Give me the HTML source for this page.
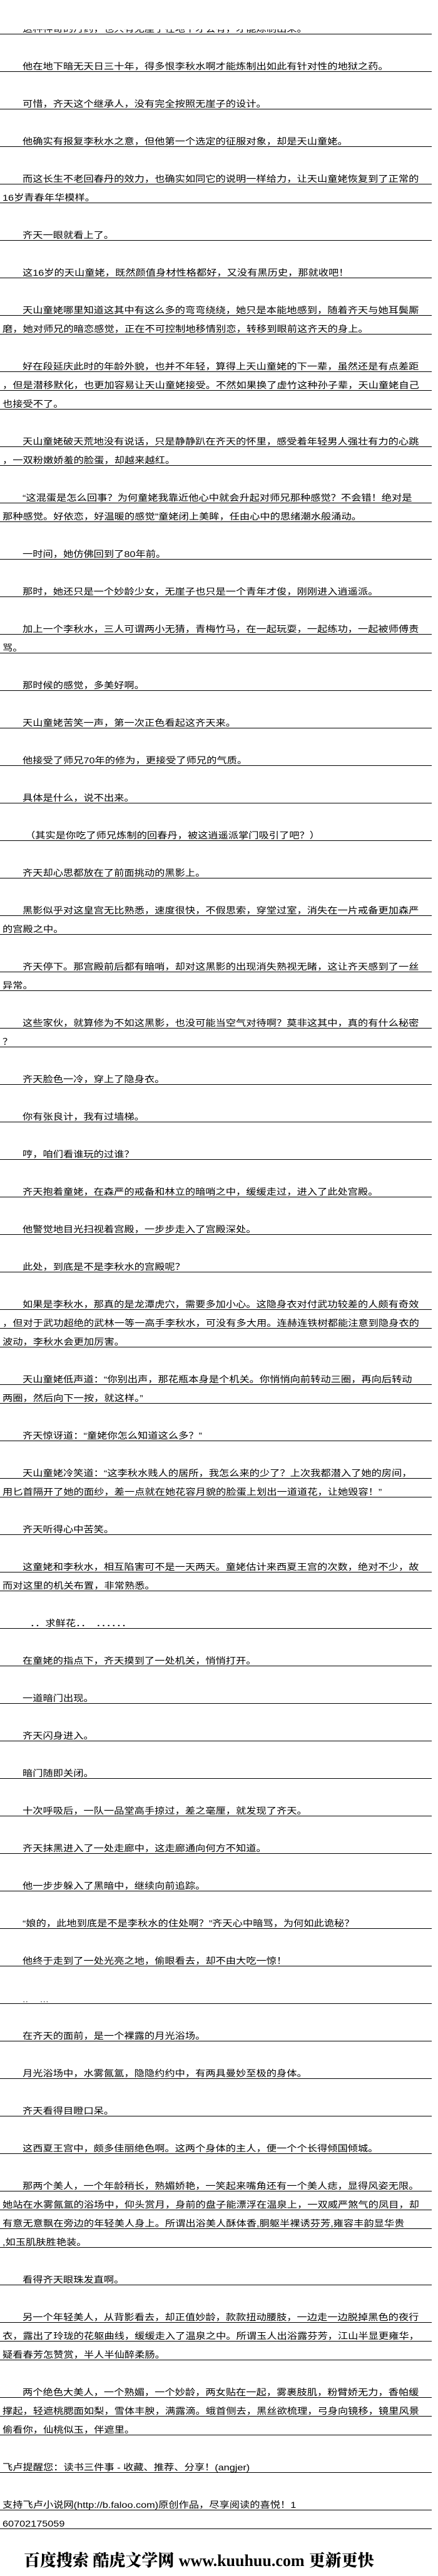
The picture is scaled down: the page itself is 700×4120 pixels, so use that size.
<!DOCTYPE html>
<html><head><meta charset="utf-8">
<style>
html,body{margin:0;padding:0;background:#fff;}
body{width:700px;height:4120px;position:relative;overflow:hidden;font-family:"Liberation Sans","Noto Sans CJK SC",sans-serif;color:#000;}
.r{position:absolute;left:0;width:690px;height:29px;border-bottom:1px solid #000;}
.r span{position:absolute;bottom:0;left:36px;font-size:14px;line-height:15px;white-space:nowrap;transform:scaleX(1.16);transform-origin:left bottom;}
.r span.c{left:4px;}
.logo{position:absolute;top:4078px;left:38px;white-space:nowrap;font-size:26px;line-height:32px;font-weight:bold;}
.logo .cn{font-family:"Noto Serif CJK SC","Liberation Serif",serif;font-weight:900;}
.logo .en{font-family:"Liberation Serif",serif;font-weight:bold;}
</style></head><body>
<div class="r" style="top:25px"><span>这种神奇的丹药，也只有无崖子在地下才会有，才能炼制出来。</span></div>
<div style="position:absolute;left:0;top:0;width:700px;height:47px;background:#fff"></div>
<div class="r" style="top:85px"><span>他在地下暗无天日三十年，得多恨李秋水啊才能炼制出如此有针对性的地狱之药。</span></div>
<div class="r" style="top:145px"><span>可惜，齐天这个继承人，没有完全按照无崖子的设计。</span></div>
<div class="r" style="top:205px"><span>他确实有报复李秋水之意，但他第一个选定的征服对象，却是天山童姥。</span></div>
<div class="r" style="top:265px"><span>而这长生不老回春丹的效力，也确实如同它的说明一样给力，让天山童姥恢复到了正常的</span></div>
<div class="r" style="top:295px"><span class="c">16岁青春年华模样。</span></div>
<div class="r" style="top:355px"><span>齐天一眼就看上了。</span></div>
<div class="r" style="top:415px"><span>这16岁的天山童姥，既然颜值身材性格都好，又没有黑历史，那就收吧！</span></div>
<div class="r" style="top:475px"><span>天山童姥哪里知道这其中有这么多的弯弯绕绕，她只是本能地感到，随着齐天与她耳鬓厮</span></div>
<div class="r" style="top:505px"><span class="c">磨，她对师兄的暗恋感觉，正在不可控制地移情别恋，转移到眼前这齐天的身上。</span></div>
<div class="r" style="top:565px"><span>好在段延庆此时的年龄外貌，也并不年轻，算得上天山童姥的下一辈，虽然还是有点差距</span></div>
<div class="r" style="top:595px"><span class="c">，但是潜移默化，也更加容易让天山童姥接受。不然如果换了虚竹这种孙子辈，天山童姥自己</span></div>
<div class="r" style="top:625px"><span class="c">也接受不了。</span></div>
<div class="r" style="top:685px"><span>天山童姥破天荒地没有说话，只是静静趴在齐天的怀里，感受着年轻男人强壮有力的心跳</span></div>
<div class="r" style="top:715px"><span class="c">，一双粉嫩娇羞的脸蛋，却越来越红。</span></div>
<div class="r" style="top:775px"><span>“这混蛋是怎么回事？为何童姥我靠近他心中就会升起对师兄那种感觉？不会错！绝对是</span></div>
<div class="r" style="top:805px"><span class="c">那种感觉。好依恋，好温暖的感觉”童姥闭上美眸，任由心中的思绪潮水般涌动。</span></div>
<div class="r" style="top:865px"><span>一时间，她仿佛回到了80年前。</span></div>
<div class="r" style="top:925px"><span>那时，她还只是一个妙龄少女，无崖子也只是一个青年才俊，刚刚进入逍遥派。</span></div>
<div class="r" style="top:985px"><span>加上一个李秋水，三人可谓两小无猜，青梅竹马，在一起玩耍，一起练功，一起被师傅责</span></div>
<div class="r" style="top:1015px"><span class="c">骂。</span></div>
<div class="r" style="top:1075px"><span>那时候的感觉，多美好啊。</span></div>
<div class="r" style="top:1135px"><span>天山童姥苦笑一声，第一次正色看起这齐天来。</span></div>
<div class="r" style="top:1195px"><span>他接受了师兄70年的修为，更接受了师兄的气质。</span></div>
<div class="r" style="top:1255px"><span>具体是什么，说不出来。</span></div>
<div class="r" style="top:1315px"><span style="left:40px">（其实是你吃了师兄炼制的回春丹，被这逍遥派掌门吸引了吧？）</span></div>
<div class="r" style="top:1375px"><span>齐天却心思都放在了前面挑动的黑影上。</span></div>
<div class="r" style="top:1435px"><span>黑影似乎对这皇宫无比熟悉，速度很快，不假思索，穿堂过室，消失在一片戒备更加森严</span></div>
<div class="r" style="top:1465px"><span class="c">的宫殿之中。</span></div>
<div class="r" style="top:1525px"><span>齐天停下。那宫殿前后都有暗哨，却对这黑影的出现消失熟视无睹，这让齐天感到了一丝</span></div>
<div class="r" style="top:1555px"><span class="c">异常。</span></div>
<div class="r" style="top:1615px"><span>这些家伙，就算修为不如这黑影，也没可能当空气对待啊？莫非这其中，真的有什么秘密</span></div>
<div class="r" style="top:1645px"><span class="c">？</span></div>
<div class="r" style="top:1705px"><span>齐天脸色一冷，穿上了隐身衣。</span></div>
<div class="r" style="top:1765px"><span>你有张良计，我有过墙梯。</span></div>
<div class="r" style="top:1825px"><span>哼，咱们看谁玩的过谁？</span></div>
<div class="r" style="top:1885px"><span>齐天抱着童姥，在森严的戒备和林立的暗哨之中，缓缓走过，进入了此处宫殿。</span></div>
<div class="r" style="top:1945px"><span>他警觉地目光扫视着宫殿，一步步走入了宫殿深处。</span></div>
<div class="r" style="top:2005px"><span>此处，到底是不是李秋水的宫殿呢？</span></div>
<div class="r" style="top:2065px"><span>如果是李秋水，那真的是龙潭虎穴，需要多加小心。这隐身衣对付武功较差的人颇有奇效</span></div>
<div class="r" style="top:2095px"><span class="c">，但对于武功超绝的武林一等一高手李秋水，可没有多大用。连赫连铁树都能注意到隐身衣的</span></div>
<div class="r" style="top:2125px"><span class="c">波动，李秋水会更加厉害。</span></div>
<div class="r" style="top:2185px"><span>天山童姥低声道：“你别出声，那花瓶本身是个机关。你悄悄向前转动三圈，再向后转动</span></div>
<div class="r" style="top:2215px"><span class="c">两圈，然后向下一按，就这样。”</span></div>
<div class="r" style="top:2275px"><span>齐天惊讶道：“童姥你怎么知道这么多？”</span></div>
<div class="r" style="top:2335px"><span>天山童姥冷笑道：“这李秋水贱人的居所，我怎么来的少了？上次我都潜入了她的房间，</span></div>
<div class="r" style="top:2365px"><span class="c">用匕首隔开了她的面纱，差一点就在她花容月貌的脸蛋上划出一道道花，让她毁容！”</span></div>
<div class="r" style="top:2425px"><span>齐天听得心中苦笑。</span></div>
<div class="r" style="top:2485px"><span>这童姥和李秋水，相互陷害可不是一天两天。童姥估计来西夏王宫的次数，绝对不少，故</span></div>
<div class="r" style="top:2515px"><span class="c">而对这里的机关布置，非常熟悉。</span></div>
<div class="r" style="top:2575px"><span style="left:48px">．．求鲜花．．　．．．．．．</span></div>
<div class="r" style="top:2635px"><span>在童姥的指点下，齐天摸到了一处机关，悄悄打开。</span></div>
<div class="r" style="top:2695px"><span>一道暗门出现。</span></div>
<div class="r" style="top:2755px"><span>齐天闪身进入。</span></div>
<div class="r" style="top:2815px"><span>暗门随即关闭。</span></div>
<div class="r" style="top:2875px"><span>十次呼吸后，一队一品堂高手掠过，差之毫厘，就发现了齐天。</span></div>
<div class="r" style="top:2935px"><span>齐天抹黑进入了一处走廊中，这走廊通向何方不知道。</span></div>
<div class="r" style="top:2995px"><span>他一步步躲入了黑暗中，继续向前追踪。</span></div>
<div class="r" style="top:3055px"><span>“娘的，此地到底是不是李秋水的住处啊？”齐天心中暗骂，为何如此诡秘？</span></div>
<div class="r" style="top:3115px"><span>他终于走到了一处光亮之地，偷眼看去，却不由大吃一惊！</span></div>
<div class="r" style="top:3175px"><span style="font-size:8px;line-height:8px">．．　　．．．</span></div>
<div class="r" style="top:3235px"><span>在齐天的面前，是一个裸露的月光浴场。</span></div>
<div class="r" style="top:3295px"><span>月光浴场中，水雾氤氲，隐隐约约中，有两具曼妙至极的身体。</span></div>
<div class="r" style="top:3355px"><span>齐天看得目瞪口呆。</span></div>
<div class="r" style="top:3415px"><span>这西夏王宫中，颇多佳丽绝色啊。这两个身体的主人，便一个个长得倾国倾城。</span></div>
<div class="r" style="top:3475px"><span>那两个美人，一个年龄稍长，熟媚娇艳，一笑起来嘴角还有一个美人痣，显得风姿无限。</span></div>
<div class="r" style="top:3505px"><span class="c">她站在水雾氤氲的浴场中，仰头赏月，身前的盘子能漂浮在温泉上，一双威严煞气的凤目，却</span></div>
<div class="r" style="top:3535px"><span class="c">有意无意飘在旁边的年轻美人身上。所谓出浴美人酥体香,胴躯半裸诱芬芳,雍容丰韵显华贵</span></div>
<div class="r" style="top:3565px"><span class="c">,如玉肌肤胜艳装。</span></div>
<div class="r" style="top:3625px"><span>看得齐天眼珠发直啊。</span></div>
<div class="r" style="top:3685px"><span>另一个年轻美人，从背影看去，却正值妙龄，款款扭动腰肢，一边走一边脱掉黑色的夜行</span></div>
<div class="r" style="top:3715px"><span class="c">衣，露出了玲珑的花躯曲线，缓缓走入了温泉之中。所谓玉人出浴露芬芳，江山半显更雍华，</span></div>
<div class="r" style="top:3745px"><span class="c">疑看春芳怎赞赏，半人半仙醉柔肠。</span></div>
<div class="r" style="top:3805px"><span>两个绝色大美人，一个熟媚，一个妙龄，两女贴在一起，雾裹肢肌，粉臂娇无力，香帕缓</span></div>
<div class="r" style="top:3835px"><span class="c">撑起，轻遮桃腮面如梨，雪体丰腴，满露滴。蛾首侧去，黑丝欲梳理，弓身向镜移，镜里风景</span></div>
<div class="r" style="top:3865px"><span class="c">偷看你，仙桃似玉，伴遮里。</span></div>
<div class="r" style="top:3925px"><span class="c">飞卢提醒您：读书三件事 - 收藏、推荐、分享！(angjer)</span></div>
<div class="r" style="top:3985px"><span class="c">支持飞卢小说网(http://b.faloo.com)原创作品，尽享阅读的喜悦！1</span></div>
<div class="r" style="top:4015px"><span class="c">60702175059</span></div>
<div class="logo"><span class="cn">百度搜索 酷虎文学网</span> <span class="en">www.kuuhuu.com</span> <span class="cn">更新更快</span></div>
</body></html>
